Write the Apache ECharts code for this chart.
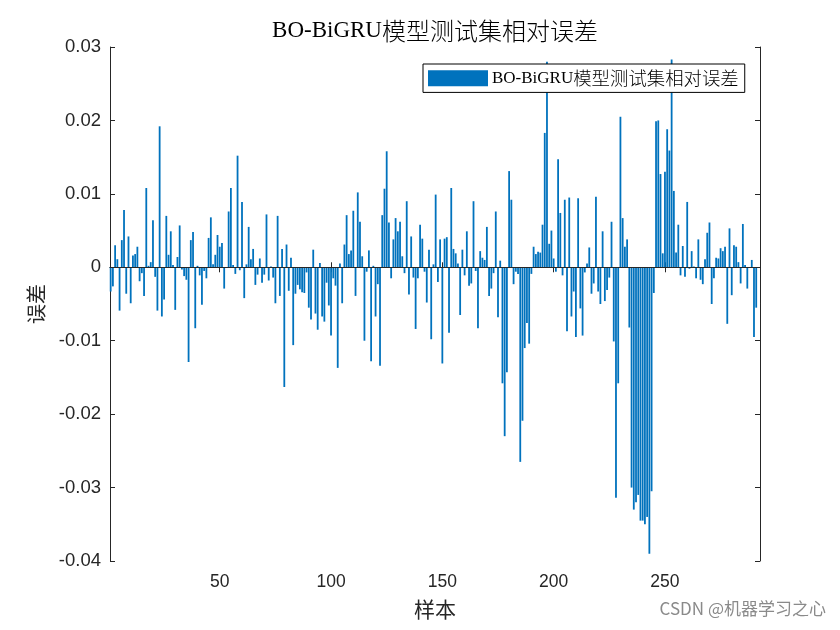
<!DOCTYPE html>
<html>
<head>
<meta charset="utf-8">
<script src="https://cdn.jsdelivr.net/npm/echarts@6/dist/echarts.min.js"></script>
<style>html,body{margin:0;padding:0;background:#fff;}#c{width:840px;height:630px;}</style>
</head>
<body>
<div id="c"></div>
<script>
const titleText = 'BO-BiGRU模型测试集相对误差';
const seriesName = 'BO-BiGRU模型测试集相对误差';
const xTicks = [50, 100, 150, 200, 250];
const yMin = -0.04, yMax = 0.03, yStep = 0.01;
const errors = [
 -0.0033,-0.0026,0.0030,0.0011,-0.0059,0.0037,0.0078,-0.0036,0.0042,-0.0049,
 0.0016,0.0018,0.0028,-0.0019,-0.0008,-0.0039,0.0108,0.0002,0.0007,0.0064,
 -0.0013,-0.0059,0.0192,-0.0067,-0.0044,0.0070,0.0017,0.0049,0.0003,-0.0058,
 0.0014,0.0057,-0.0003,-0.0012,-0.0017,-0.0129,0.0037,0.0048,-0.0083,0.0002,
 -0.0011,-0.0051,-0.0005,-0.0015,0.0040,0.0068,0.0004,0.0017,0.0044,0.0028,
 0.0033,-0.0029,-0.0001,0.0076,0.0108,0.0003,-0.0009,0.0152,-0.0004,0.0089,
 -0.0042,0.0004,0.0055,0.0011,0.0025,-0.0024,-0.0010,0.0012,-0.0021,-0.0010,
 0.0072,-0.0018,0.0001,-0.0014,-0.0049,0.0070,-0.0039,0.0025,-0.0163,0.0031,
 -0.0032,0.0013,-0.0106,-0.0036,-0.0024,-0.0030,-0.0034,-0.0035,-0.0007,-0.0055,
 -0.0071,0.0024,-0.0063,-0.0085,0.0006,-0.0067,-0.0074,-0.0021,-0.0052,-0.0093,
 -0.0015,-0.0025,-0.0137,0.0005,-0.0049,0.0031,0.0071,0.0018,0.0023,0.0077,
 -0.0039,0.0102,0.0062,0.0015,-0.0100,-0.0006,0.0023,-0.0128,0.0002,-0.0067,
 -0.0023,-0.0134,0.0071,0.0107,0.0158,0.0061,-0.0015,0.0038,0.0067,0.0049,
 0.0062,0.0015,-0.0008,0.0090,-0.0037,0.0042,-0.0014,-0.0084,-0.0015,0.0058,
 0.0039,-0.0006,-0.0048,0.0024,-0.0098,0.0004,0.0099,-0.0020,0.0038,-0.0131,
 0.0039,0.0041,-0.0089,0.0108,0.0025,0.0019,0.0005,-0.0065,0.0024,-0.0011,
 0.0049,-0.0025,-0.0022,0.0090,-0.0005,-0.0083,0.0022,0.0013,0.0010,0.0055,
 -0.0039,-0.0029,-0.0008,0.0076,-0.0068,0.0009,-0.0158,-0.0230,-0.0143,0.0131,
 0.0092,-0.0023,-0.0006,-0.0009,-0.0265,-0.0209,-0.0110,-0.0076,-0.0104,-0.0009,
 0.0028,0.0018,0.0021,0.0020,0.0058,0.0183,0.0280,0.0032,0.0050,0.0012,
 -0.0006,0.0147,0.0074,-0.0011,0.0092,-0.0087,0.0095,-0.0067,-0.0033,-0.0095,
 0.0094,-0.0056,-0.0093,-0.0007,0.0005,0.0027,-0.0036,-0.0022,0.0096,-0.0033,
 -0.0050,0.0049,-0.0046,-0.0031,-0.0014,0.0062,-0.0101,-0.0314,-0.0158,0.0205,
 0.0067,0.0028,0.0038,-0.0082,-0.0300,-0.0330,-0.0320,-0.0310,-0.0345,-0.0345,
 -0.0350,-0.0340,-0.0390,-0.0305,-0.0035,0.0199,0.0200,0.0127,0.0019,0.0130,
 0.0188,0.0159,0.0283,0.0104,0.0020,0.0058,-0.0011,0.0029,-0.0013,0.0089,
 -0.0002,0.0022,0.0001,-0.0015,0.0038,-0.0017,-0.0023,0.0011,0.0047,0.0061,
 -0.0050,-0.0015,0.0013,0.0012,0.0026,0.0022,0.0028,-0.0077,0.0053,-0.0038,
 0.0030,0.0028,0.0007,-0.0022,0.0059,0.0003,-0.0029,0.0000,0.0010,-0.0095,
 -0.0055
];
const samples = errors.map((_, i) => i + 1);

const axisColor = '#262626';
const barColor = '#0072BD';
const xMin = 0.7, xMax = 292.7;

const chart = echarts.init(document.getElementById('c'), null, {renderer: 'canvas'});
const option = {
  animation: false,
  backgroundColor: '#fff',
  grid: {left: 110, right: 80, top: 47, bottom: 69, show: false},
  legend: {
    data: [seriesName],
    left: 423, top: 64,
    orient: 'horizontal',
    icon: 'rect',
    itemWidth: 60, itemHeight: 16, itemGap: 4,
    padding: [5, 6, 5, 5],
    borderColor: '#000', borderWidth: 1, backgroundColor: '#fff',
    formatter: () => '{a|BO-BiGRU}{b|模型测试集相对误差}',
    textStyle: {
      padding: [0, 0, 0, -1],
      rich: {
        a: {fontFamily: 'Liberation Serif', fontSize: 17, color: '#000'},
        b: {fontFamily: 'Noto Sans CJK SC', fontSize: 18.4, fontWeight: 300, color: '#000'}
      }
    }
  },
  xAxis: [{
    type: 'value', min: xMin, max: xMax, position: 'bottom',
    name: '样本', nameLocation: 'middle', nameGap: 38,
    nameTextStyle: {fontFamily: 'Noto Sans CJK SC', fontSize: 21, color: axisColor},
    axisLine: {show: true, lineStyle: {color: axisColor, width: 1}},
    axisTick: {show: true, inside: true, length: 5, customValues: xTicks, lineStyle: {color: axisColor}},
    axisLabel: {show: true, customValues: xTicks, margin: 12, fontFamily: 'Liberation Sans', fontSize: 17.5, color: axisColor},
    splitLine: {show: false}
  }, {
    type: 'value', min: xMin, max: xMax, position: 'top',
    axisLine: {show: true, lineStyle: {color: axisColor, width: 1}},
    axisTick: {show: true, inside: true, length: 5, customValues: xTicks, lineStyle: {color: axisColor}},
    axisLabel: {show: false},
    splitLine: {show: false}
  }],
  yAxis: [{
    type: 'value', min: yMin, max: yMax, interval: yStep, position: 'left',
    name: '误差', nameLocation: 'middle', nameGap: 64, nameRotate: 90,
    nameTextStyle: {fontFamily: 'Noto Sans CJK SC', fontSize: 20, color: axisColor},
    axisLine: {show: true, lineStyle: {color: axisColor, width: 1}},
    axisTick: {show: true, inside: true, length: 5, lineStyle: {color: axisColor}},
    axisLabel: {
      margin: 9, fontFamily: 'Liberation Sans', fontSize: 18.5, color: axisColor,
      formatter: v => Math.abs(v) < 1e-9 ? '0' : v.toFixed(2)
    },
    splitLine: {show: false}
  }, {
    type: 'value', min: yMin, max: yMax, interval: yStep, position: 'right',
    axisLine: {show: true, lineStyle: {color: axisColor, width: 1}},
    axisTick: {show: true, inside: true, length: 5, lineStyle: {color: axisColor}},
    axisLabel: {show: false},
    splitLine: {show: false}
  }],
  series: [{
    name: seriesName,
    type: 'bar',
    xAxisIndex: 0, yAxisIndex: 0,
    barWidth: 1.8,
    itemStyle: {color: barColor},
    data: samples.map((s, i) => [s, errors[i]]),
    markLine: {
      silent: true, symbol: ['none', 'none'], animation: false,
      label: {show: false},
      lineStyle: {color: axisColor, width: 1, type: 'solid'},
      data: [{yAxis: 0}]
    }
  }],
  graphic: [{
    type: 'text', x: 435, y: 31,
    style: {
      text: '{a|BO-BiGRU}{b|模型测试集相对误差}',
      textAlign: 'center', textVerticalAlign: 'middle',
      rich: {
        a: {fontFamily: 'Liberation Serif', fontSize: 23, fill: '#000'},
        b: {fontFamily: 'Noto Sans CJK SC', fontSize: 24, fontWeight: 300, fill: '#000'}
      }
    }
  }, {
    type: 'text', x: 826, y: 609,
    style: {
      text: 'CSDN @机器学习之心',
      textAlign: 'right', textVerticalAlign: 'middle',
      fontFamily: 'Noto Sans CJK SC', fontSize: 17, fill: '#8a8a8a'
    }
  }]
};
chart.setOption(option);
</script>
</body>
</html>
